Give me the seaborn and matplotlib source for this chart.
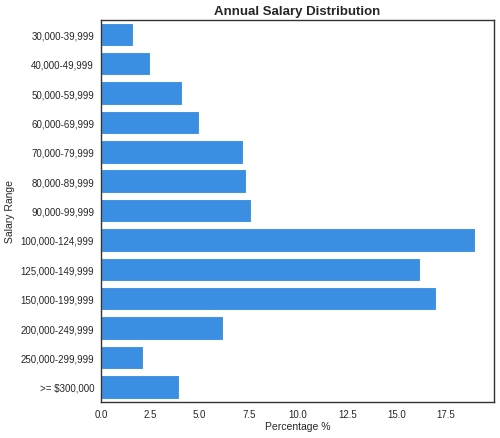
import pandas as pd
import seaborn as sns
import matplotlib.pyplot as plt

# salary bands and share of respondents (%)
salary_ranges = [
    "30,000-39,999", "40,000-49,999", "50,000-59,999", "60,000-69,999",
    "70,000-79,999", "80,000-89,999", "90,000-99,999", "100,000-124,999",
    "125,000-149,999", "150,000-199,999", "200,000-249,999",
    "250,000-299,999", ">= $300,000",
]
percentages = [1.6, 2.5, 4.1, 5.0, 7.2, 7.35, 7.6, 19.0, 16.2, 17.0, 6.2, 2.15, 3.95]

df = pd.DataFrame({"range": salary_ranges, "pct": percentages})

sns.set_theme(style="white")
plt.rcParams['font.family'] = ['Liberation Sans', 'DejaVu Sans']

fig, ax = plt.subplots(figsize=(5, 4.39), dpi=100)
sns.barplot(data=df, x="pct", y="range", color="#3a8fe2", saturation=1,
            edgecolor="white", linewidth=0.8, ax=ax)

ax.set_title("Annual Salary Distribution", fontsize=9.5, fontweight="bold", pad=4)
ax.set_xlabel("Percentage %", fontsize=7.5, labelpad=2)
ax.set_ylabel("Salary Range", fontsize=7.5, labelpad=4)
ax.tick_params(axis="both", labelsize=7, length=0, pad=5)
ax.set_xticks([0, 2.5, 5, 7.5, 10, 12.5, 15, 17.5])
for s in ax.spines.values():
    s.set_color("#333333")
    s.set_linewidth(1.0)

fig.subplots_adjust(left=0.202, right=0.988, top=0.953, bottom=0.083)
fig.savefig("out.png", dpi=100)
